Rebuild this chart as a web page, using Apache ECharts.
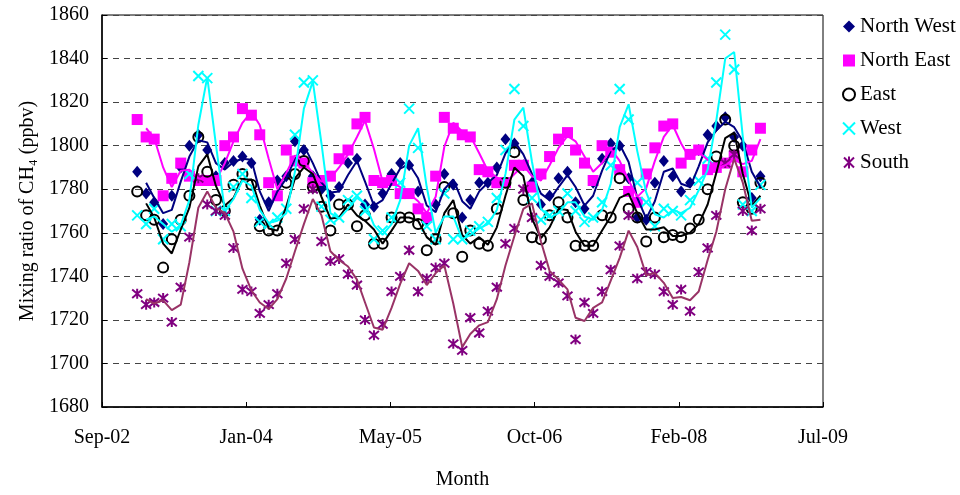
<!DOCTYPE html>
<html>
<head>
<meta charset="utf-8">
<script src="https://cdn.jsdelivr.net/npm/echarts@6/dist/echarts.min.js"></script>
<style>
  html, body { margin: 0; padding: 0; background: #fff; }
  #chart { width: 960px; height: 495px; }
</style>
</head>
<body>
<div id="chart"></div>
<script>
// Monthly methane mixing ratios (ppbv) by wind sector, Jan 2003 - Dec 2008
const northWest = [
  1788,1778,1774,1764,1777,1790,1800,1805,1798,1786,1792,1793,
  1795,1792,1766,1774,1784,1786,1802,1798,1786,1780,1777,1781,
  1792,1794,1773,1772,1778,1787,1792,1791,1779,1766,1773,1787,
  1782,1767,1775,1783,1783,1790,1803,1801,1791,1783,1773,1777,
  1785,1788,1774,1771,1783,1794,1801,1800,1785,1767,1766,1783,
  1793,1786,1779,1783,1798,1805,1809,1813,1804,1800,1776,1786
];
const northEast = [
  1812,1804,1803,1777,1785,1792,1786,1784,1784,1784,1800,1804,
  1817,1814,1805,1783,1777,1798,1793,1792,1783,1784,1786,1794,
  1798,1810,1813,1784,1783,1784,1778,1778,1771,1767,1786,1813,
  1808,1805,1804,1789,1788,1783,1783,1791,1791,1781,1787,1795,
  1803,1806,1798,1792,1784,1800,1797,1789,1779,1774,1787,1799,
  1809,1810,1792,1796,1798,1789,1790,1792,1795,1788,1798,1808
];
const east = [
  1779,1768,1766,1744,1757,1766,1777,1804,1788,1775,1770,1782,
  1787,1782,1763,1761,1761,1783,1787,1793,1781,1772,1761,1773,
  1773,1763,1768,1755,1755,1767,1767,1767,1764,1752,1757,1781,
  1769,1749,1761,1755,1754,1771,1783,1797,1775,1758,1757,1768,
  1774,1767,1754,1754,1754,1768,1767,1785,1771,1767,1756,1767,
  1758,1759,1758,1762,1766,1780,1795,1812,1800,1774,1771,1783
];
const west = [
  1768,1764,1771,1757,1764,1763,1787,1832,1831,1770,1770,1781,
  1787,1776,1765,1764,1767,1771,1805,1829,1830,1772,1766,1767,
  1775,1777,1770,1757,1761,1767,1783,1817,1799,1763,1757,1778,
  1757,1757,1761,1763,1765,1776,1798,1826,1809,1776,1766,1768,
  1770,1778,1770,1765,1767,1774,1791,1826,1812,1783,1774,1763,
  1771,1770,1768,1775,1784,1794,1829,1851,1835,1773,1770,1782
];
const south = [
  1732,1727,1728,1730,1719,1735,1758,1785,1773,1770,1768,1753,
  1734,1733,1723,1727,1732,1746,1757,1771,1780,1756,1747,1748,
  1741,1736,1720,1713,1718,1733,1740,1752,1733,1739,1744,1746,
  1709,1706,1721,1714,1724,1735,1755,1762,1780,1767,1745,1740,
  1737,1731,1711,1728,1723,1733,1743,1754,1768,1739,1742,1741,
  1733,1727,1734,1724,1742,1753,1768,1792,1796,1770,1761,1771
];

// Date-axis tick labels (serial day numbers 37500..40000 every 500 days)
const tickLabels = ['Sep-02', 'Jan-04', 'May-05', 'Oct-06', 'Feb-08', 'Jul-09'];
const axisStart = 37500, axisStep = 500;

// First day of each month, Jan 2003 .. Dec 2008, as spreadsheet serial days
const months = [];
for (let y = 2003; y <= 2008; y++) {
  for (let m = 0; m < 12; m++) {
    months.push(Date.UTC(y, m, 1) / 86400000 + 25569);
  }
}

const FONT = "'Liberation Serif', 'Times New Roman', serif";

function points(values) {
  return values.map((v, i) => [months[i], v]);
}
// Two-period moving average trend line
function movingAverage(values) {
  const out = [];
  for (let i = 1; i < values.length; i++) {
    out.push([months[i], (values[i - 1] + values[i]) / 2]);
  }
  return out;
}

const X_PATH = 'path://M0,0L10,10M10,0L0,10';
const STAR_PATH = 'path://M0,0L10,10M10,0L0,10M5,-1L5,11';

const sectors = [
  { name: 'North West', data: northWest, symbol: 'diamond', size: [10, 12],
    item: { color: '#000080', opacity: 1 }, line: '#000080' },
  { name: 'North East', data: northEast, symbol: 'rect', size: 11,
    item: { color: '#FF00FF', opacity: 1 }, line: '#FF00FF' },
  { name: 'East', data: east, symbol: 'circle', size: 10,
    item: { color: 'rgba(0,0,0,0)', borderColor: '#000000', borderWidth: 2, opacity: 1 }, line: '#000000' },
  { name: 'West', data: west, symbol: X_PATH, size: 10,
    item: { color: 'rgba(0,0,0,0)', borderColor: '#00FFFF', borderWidth: 2, opacity: 1 }, line: '#00FFFF' },
  { name: 'South', data: south, symbol: STAR_PATH, size: 10,
    item: { color: 'rgba(0,0,0,0)', borderColor: '#800080', borderWidth: 2, opacity: 1 }, line: '#993366' }
];

const series = [];
sectors.forEach(s => {
  series.push({
    name: s.name, type: 'scatter', data: points(s.data),
    symbol: s.symbol, symbolSize: s.size, itemStyle: s.item, z: 2,
    emphasis: { disabled: true }
  });
});
sectors.forEach(s => {
  series.push({
    name: s.name + ' avg', type: 'line', data: movingAverage(s.data),
    showSymbol: false, symbol: 'none', z: 3, silent: true,
    lineStyle: { color: s.line, width: 2 }
  });
});

const chart = echarts.init(document.getElementById('chart'), null, { renderer: 'canvas' });
chart.setOption({
  animation: false,
  backgroundColor: '#ffffff',
  textStyle: { fontFamily: FONT },
  grid: { left: 102, right: 137, top: 15, bottom: 83, show: true,
          borderColor: '#000', borderWidth: 1, backgroundColor: 'transparent' },
  legend: {
    orient: 'vertical', left: 837, top: 11,
    data: sectors.map(s => s.name),
    itemWidth: 12, itemHeight: 12, itemGap: 13,
    textStyle: { fontFamily: FONT, fontSize: 21, color: '#000', lineHeight: 21 },
    selectedMode: false
  },
  xAxis: {
    type: 'value', min: axisStart, max: axisStart + axisStep * 5, interval: axisStep,
    name: 'Month', nameLocation: 'middle', nameGap: 63,
    nameTextStyle: { fontFamily: FONT, fontSize: 20, color: '#000' },
    axisLine: { lineStyle: { color: '#000', width: 1.5 } },
    axisTick: { inside: true, length: 5, lineStyle: { color: '#000' } },
    axisLabel: { fontFamily: FONT, fontSize: 20, color: '#000', margin: 21,
      formatter: v => tickLabels[Math.round((v - axisStart) / axisStep)] || '' },
    splitLine: { show: false }
  },
  yAxis: {
    type: 'value', min: 1680, max: 1860, interval: 20,
    name: 'Mixing ratio of CH\u2084 (ppbv)', nameLocation: 'middle', nameGap: 64, nameRotate: 90,
    nameTextStyle: { fontFamily: FONT, fontSize: 20, color: '#000' },
    axisLine: { lineStyle: { color: '#000', width: 1.5 } },
    axisTick: { inside: true, length: 5, lineStyle: { color: '#000' } },
    axisLabel: { fontFamily: FONT, fontSize: 20, color: '#000', margin: 13,
      formatter: v => String(v) },
    splitLine: { show: true, lineStyle: { color: '#444', width: 1, type: [6, 5] } }
  },
  series: series
});
</script>
</body>
</html>
